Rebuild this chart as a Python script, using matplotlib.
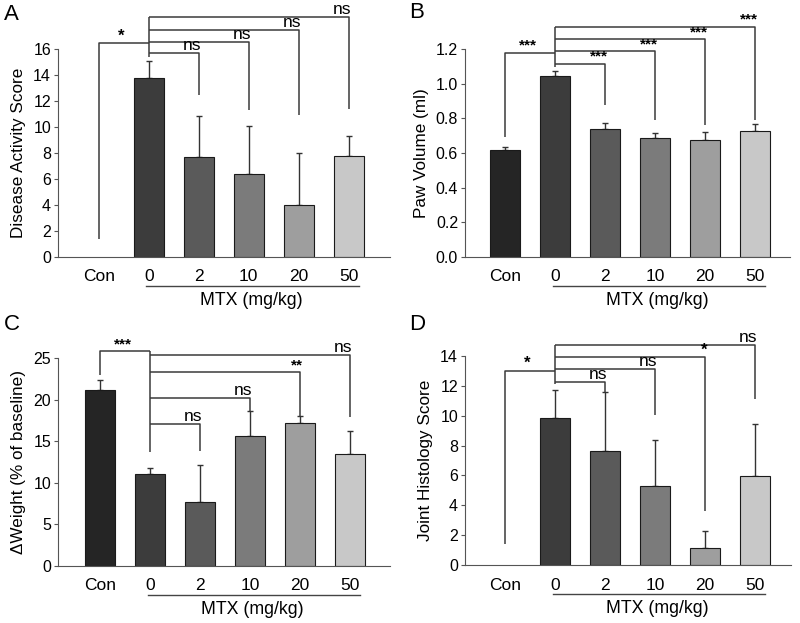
import matplotlib.pyplot as plt
import numpy as np

plt.rcParams['font.family'] = ['Liberation Sans', 'DejaVu Sans']

groups = ['Con', '0', '2', '10', '20', '50']
colors = ['#252525', '#3c3c3c', '#5a5a5a', '#7b7b7b', '#9e9e9e', '#c8c8c8']

# panel A - disease activity score (no Con bar)
dai_mean = [np.nan, 13.75, 7.67, 6.38, 4.02, 7.79]
dai_err = [0, 1.32, 3.20, 3.72, 4.00, 1.51]
# panel B - paw volume
paw_mean = [0.617, 1.043, 0.738, 0.685, 0.675, 0.725]
paw_err = [0.019, 0.030, 0.033, 0.032, 0.044, 0.040]
# panel C - weight change
wt_mean = [21.2, 11.0, 7.7, 15.6, 17.2, 13.5]
wt_err = [1.1, 0.8, 4.45, 3.0, 0.8, 2.7]
# panel D - joint histology (no Con bar)
jh_mean = [np.nan, 9.85, 7.63, 5.27, 1.12, 5.95]
jh_err = [0, 1.87, 3.95, 3.08, 1.18, 3.52]

# significance brackets: (Con-0 height, Con low, label), 0 start, [(group, height, low, label)]
sig_A = ((16.44, 1.38, '*'), 15.41,
         [(2, 15.67, 12.46, 'ns'), (3, 16.56, 11.3, 'ns'), (4, 17.46, 10.9, 'ns'), (5, 18.44, 11.4, 'ns')])
sig_B = ((1.178, 0.69, '***'), 1.099,
         [(2, 1.115, 0.877, '***'), (3, 1.186, 0.79, '***'), (4, 1.255, 0.76, '***'), (5, 1.329, 0.79, '***')])
sig_C = ((25.8, 22.99, '***'), 13.75,
         [(2, 17.08, 13.83, 'ns'), (3, 20.18, 18.6, 'ns'), (4, 23.27, 18.0, '**'), (5, 25.32, 17.85, 'ns')])
sig_D = ((13.01, 1.39, '*'), 12.1,
         [(2, 12.27, 11.6, 'ns'), (3, 13.1, 10.03, 'ns'), (4, 13.91, 3.63, '*'), (5, 14.74, 11.15, 'ns')])

fig = plt.figure(figsize=(8, 6.23), dpi=100)

W, H = 800, 623
def make_ax(x0, x1, ybot, ytop):
    return fig.add_axes([x0 / W, 1 - ybot / H, (x1 - x0) / W, (ybot - ytop) / H])

panels = [
    (make_ax(58, 390, 257, 49), dai_mean, dai_err, sig_A, 'Disease Activity Score',
     (0, 16), np.arange(0, 17, 2), '%d', (-0.82, 5.83), 'A', (4, 14)),
    (make_ax(465, 790, 257, 49), paw_mean, paw_err, sig_B, 'Paw Volume (ml)',
     (0, 1.2), np.arange(0, 1.21, 0.2), '%.1f', (-0.8, 5.7), 'B', (409, 12)),
    (make_ax(58, 390, 566, 358), wt_mean, wt_err, sig_C, '\u0394Weight (% of baseline)',
     (0, 25), np.arange(0, 26, 5), '%d', (-0.84, 5.8), 'C', (4, 325)),
    (make_ax(465, 791, 565, 356), jh_mean, jh_err, sig_D, 'Joint Histology Score',
     (0, 14), np.arange(0, 15, 2), '%d', (-0.8, 5.72), 'D', (409, 325)),
]

lc = '#3a3a3a'
x = np.arange(len(groups))
star_size = {'*': 12, '**': 11, '***': 11, 'ns': 12.5}

for ax, mean, err, sig, ylab, ylim, yticks, fmt, xlim, letter, lpos in panels:
    mean = np.array(mean, dtype=float)
    keep = ~np.isnan(mean)
    ax.bar(x[keep], mean[keep], width=0.6, color=np.array(colors)[keep],
           edgecolor='#1a1a1a', linewidth=0.8, zorder=2)
    ax.errorbar(x[keep], mean[keep], yerr=[np.zeros(keep.sum()), np.array(err)[keep]],
                fmt='none', ecolor='#333333', elinewidth=1.0, capsize=2.2, capthick=1.0, zorder=1)
    ax.set_xlim(*xlim)
    ax.set_ylim(*ylim)
    ax.set_yticks(yticks)
    ax.set_yticklabels([fmt % v for v in yticks])
    ax.set_xticks(x)
    ax.set_xticklabels(groups)
    ax.tick_params(axis='x', length=0, pad=9, labelsize=12.5)
    ax.tick_params(axis='y', length=3, width=0.8, pad=2, labelsize=11.5, color='#555555')
    ax.spines['top'].set_visible(False)
    ax.spines['right'].set_visible(False)
    ax.spines['left'].set_color('#555555')
    ax.spines['bottom'].set_color('#555555')
    ax.spines['left'].set_linewidth(0.8)
    ax.spines['bottom'].set_linewidth(0.8)
    ax.set_ylabel(ylab, fontsize=12.3, labelpad=5)

    # MTX underline and label
    tr = ax.get_xaxis_transform()
    ax.plot([0.95, 5.2], [-0.139, -0.139], color='#444444', lw=1.0, transform=tr, clip_on=False)
    ax.text(3.05, -0.21, 'MTX (mg/kg)', transform=tr, ha='center', va='center', fontsize=12.8)

    # significance brackets
    (h0, low0, lab0), start0, comps = sig
    kw = dict(color=lc, lw=1.1, clip_on=False, solid_capstyle='butt')
    ax.plot([0, 0, 1], [low0, h0, h0], **kw)
    ax.text(0.45, h0, lab0, ha='center', va='bottom', fontsize=star_size[lab0],
            fontweight='normal' if lab0 == 'ns' else 'bold')
    top = max(c[1] for c in comps)
    ax.plot([1, 1], [start0, max(top, h0)], **kw)
    for g, h, low, lab in comps:
        ax.plot([1, g, g], [h, h, low], **kw)
        ax.text(g + 0.05, h, lab, ha='right', va='bottom', fontsize=star_size[lab],
                fontweight='normal' if lab == 'ns' else 'bold')

    fig.text(lpos[0] / W, 1 - lpos[1] / H, letter, fontsize=16, ha='left', va='center')

fig.savefig('out.png', dpi=100)
